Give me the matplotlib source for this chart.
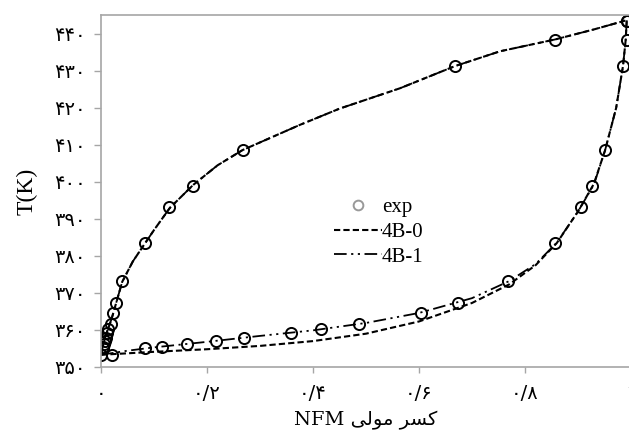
import matplotlib
matplotlib.use("Agg")
import matplotlib.pyplot as plt
from matplotlib.lines import Line2D

# experimental T-x-y data (NFM mole fraction)
exp_T = [353.3, 355.1, 355.5, 356.2, 357.1, 357.9, 359.3, 360.2, 361.6, 364.7,
         367.2, 373.1, 383.4, 393.1, 398.9, 408.5, 431.4, 438.4, 443.6]
exp_x_liq = [0.02, 0.083, 0.116, 0.162, 0.217, 0.27, 0.358, 0.416, 0.487, 0.603,
             0.674, 0.768, 0.857, 0.905, 0.927, 0.951, 0.985, 0.992, 0.992]
exp_y_vap = [0.0, 0.003, 0.004, 0.006, 0.007, 0.009, 0.012, 0.014, 0.018, 0.022,
             0.028, 0.040, 0.083, 0.129, 0.174, 0.267, 0.668, 0.857, 0.992]

# model dew curve (both models nearly identical)
dew_x = [0.0, 0.005, 0.01, 0.02, 0.03, 0.04, 0.06, 0.083, 0.1, 0.13, 0.174,
         0.22, 0.267, 0.375, 0.45, 0.564, 0.668, 0.753, 0.857, 0.93, 0.992]
dew_T = [353.3, 356.5, 359.0, 363.0, 368.0, 373.0, 378.5, 383.4, 387.0, 393.0, 399.2,
         404.5, 408.6, 415.4, 419.8, 425.3, 431.3, 435.3, 438.5, 441.2, 443.7]

# model bubble curves
b0_x = [0.0, 0.1, 0.2, 0.3, 0.4, 0.5, 0.6, 0.7, 0.77, 0.82, 0.86, 0.9, 0.93,
        0.951, 0.972, 0.985, 0.99, 0.992]
b0_T = [353.3, 354.1, 354.8, 355.7, 357.0, 359.0, 362.3, 367.3, 372.3, 377.5, 383.5,
        392.0, 399.5, 408.5, 420.0, 431.4, 438.4, 443.7]
b1_x = [0.0, 0.05, 0.1, 0.2, 0.3, 0.4, 0.5, 0.6, 0.7, 0.77, 0.82, 0.86, 0.9, 0.93,
        0.951, 0.972, 0.985, 0.99, 0.992]
b1_T = [353.3, 354.4, 355.3, 356.8, 358.4, 359.9, 361.9, 364.6, 368.6, 373.2, 377.8,
        383.6, 392.0, 399.3, 408.5, 420.0, 431.4, 438.4, 443.7]

x_ticks = [0, 0.2, 0.4, 0.6, 0.8, 1.0]
x_ticklabels = ["۰", "۰/۲", "۰/۴", "۰/۶", "۰/۸", "۱"]
y_ticks = [350, 360, 370, 380, 390, 400, 410, 420, 430, 440]
y_ticklabels = ["۳۵۰", "۳۶۰", "۳۷۰", "۳۸۰", "۳۹۰", "۴۰۰", "۴۱۰", "۴۲۰", "۴۳۰", "۴۴۰"]

serif = ["Liberation Serif", "DejaVu Serif"]
grey = "#a6a6a6"

fig = plt.figure(figsize=(6.29, 4.37), dpi=100)
ax = fig.add_axes([101 / 629, 1 - 367 / 437, 530 / 629, 352 / 437])

dash0 = (0, (3.0, 1.5))
dash1 = (0, (7, 2.5, 1.2, 2.5, 1.2, 2.5))

ax.plot(dew_x, dew_T, color="black", lw=1.5, linestyle=dash0)
ax.plot(dew_x, dew_T, color="black", lw=1.3, linestyle=dash1)
ax.plot(b0_x, b0_T, color="black", lw=1.5, linestyle=dash0)
ax.plot(b1_x, b1_T, color="black", lw=1.3, linestyle=dash1)
ax.plot(exp_x_liq, exp_T, "o", ms=8, mfc="none", mec="black", mew=1.4)
ax.plot(exp_y_vap, exp_T, "o", ms=8, mfc="none", mec="black", mew=1.4)

ax.set_xlim(0, 1.0)
ax.set_ylim(350, 445.1)
ax.set_xticks(x_ticks)
ax.set_xticklabels(x_ticklabels, family="DejaVu Sans", fontsize=14)
ax.set_yticks(y_ticks)
ax.set_yticklabels(y_ticklabels, family="DejaVu Sans", fontsize=14)
ax.tick_params(axis="y", length=5, width=1, color=grey, pad=6)
ax.tick_params(axis="x", length=4, width=1, color=grey, pad=8)

for s in ["left", "top", "bottom"]:
    ax.spines[s].set_color(grey)
    ax.spines[s].set_linewidth(1.2)
ax.spines["right"].set_visible(False)

ax.set_ylabel("T(K)", family=serif, fontsize=17, labelpad=12)
# Persian label written in visual order with presentation forms
xlab = "NFM " + "\uFBFD\uFEDF\uFEEE\uFEE3" + " " + "\uFEAE\uFEB4\uFB90"
ax.set_xlabel(xlab, family=["DejaVu Serif", "DejaVu Sans"], fontsize=14, labelpad=6)

handles = [
    Line2D([], [], marker="o", ls="none", ms=7, mfc="none", mec="#999999", mew=1.4),
    Line2D([], [], color="black", lw=1.5, linestyle=dash0),
    Line2D([], [], color="black", lw=1.3, linestyle=dash1),
]
ax.legend(handles, ["exp", "4B-0", "4B-1"], loc="center left",
          bbox_to_anchor=(0.44, 0.383), frameon=False, handlelength=2.3,
          handletextpad=0.0, labelspacing=0.25, borderpad=0, borderaxespad=0,
          prop={"family": serif, "size": 15})

fig.savefig("out.png", dpi=100)
